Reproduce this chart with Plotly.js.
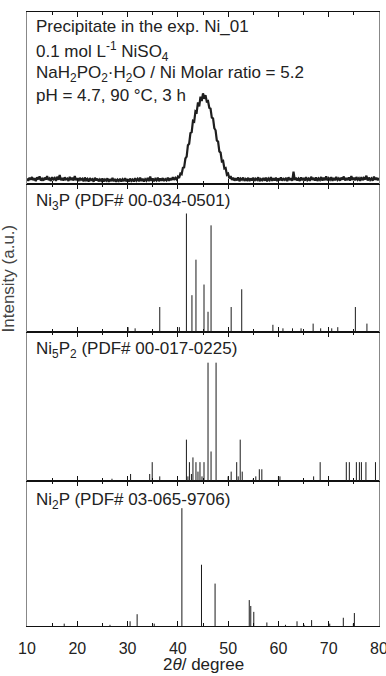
<!DOCTYPE html>
<html>
<head>
<meta charset="utf-8">
<script src="https://cdn.plot.ly/plotly-3.0.1.min.js"></script>
<style>html,body{margin:0;padding:0;background:#fff;}#chart{width:386px;height:676px;}</style>
</head>
<body>
<div id="chart"></div>
<script>
// ---------- Experimental pattern (precipitate, exp. Ni_01) ----------
const expStart = 10;      // 2theta of first point (degree)
const expStep = 0.25;     // sampling step (degree)
const expIntensity = [
  3.1,1.8,3.6,2.4,4.0,2.2,3.3,1.6,3.8,2.7,4.4,2.0,3.0,1.9,3.7,2.5,4.6,2.3,3.2,1.7,
  3.9,2.6,3.4,1.8,4.2,2.4,5.2,2.1,3.5,1.9,3.8,2.6,3.1,1.7,4.1,2.3,3.6,2.0,4.5,2.2,
  3.3,1.6,3.5,2.4,3.0,1.5,3.7,2.1,2.9,1.4,3.4,2.2,2.8,1.3,3.6,2.0,3.1,1.5,2.7,1.8,
  3.2,1.4,2.6,1.9,3.3,1.2,2.8,1.6,3.5,1.5,2.9,1.3,2.5,1.7,3.0,1.4,2.7,1.6,3.4,1.5,
  2.8,1.3,3.1,1.8,2.6,1.4,3.3,1.9,2.9,1.5,3.6,1.7,3.0,1.4,2.8,1.9,3.5,1.6,4.3,1.8,
  3.2,1.5,2.9,2.0,3.7,1.6,3.1,1.9,3.4,1.7,2.8,2.1,3.6,1.8,3.3,2.2,3.9,2.4,3.5,2.6,
  4.2,3.4,6.0,5.6,9.4,9.6,14.8,15.9,22.5,23.4,29.6,30.1,36.7,36.2,42.3,41.8,47.4,45.1,50.8,48.2,
  52.7,49.5,51.6,47.9,48.2,44.3,43.8,38.6,38.1,32.4,31.2,25.3,24.6,18.9,18.2,13.1,13.4,9.0,9.3,5.4,
  6.0,3.2,4.6,2.3,3.6,1.9,3.3,2.1,3.8,1.6,3.1,2.4,3.7,1.8,2.9,2.2,3.5,1.7,3.2,2.0,
  3.6,1.8,3.0,2.3,3.9,1.6,2.8,2.1,3.4,1.9,3.7,1.5,3.1,2.2,4.0,1.8,3.3,2.0,3.6,1.7,
  3.2,2.1,3.8,1.9,3.0,2.4,3.5,1.6,3.9,2.2,3.3,1.8,7.2,2.3,3.6,2.0,3.1,1.7,3.8,2.1,
  3.4,1.9,3.9,2.2,3.1,1.8,4.2,2.4,3.5,2.0,3.8,1.7,3.2,2.3,4.0,1.9,3.6,2.2,4.4,2.0,
  3.3,2.4,3.9,1.8,3.5,2.1,4.1,2.3,3.2,1.9,3.7,2.5,4.3,2.0,3.4,2.2,3.8,1.9,4.6,2.3,
  3.6,2.1,4.0,2.4,3.3,1.8,3.9,2.2,3.5,2.6,4.8,2.0,3.7,2.3,3.2,1.9,4.2,2.4,3.6,2.1,
  3.4
];

// ---------- Reference patterns (2theta, relative intensity) ----------
const ni3pPos = [30.1,31.5,36.4,40.3,41.7,42.8,43.6,45.2,46.0,46.6,50.6,52.7,58.9,60.9,62.8,64.5,66.9,68.4,70.6,71.8,75.3,77.6];
const ni3pInt = [4,3,21,4,100,31,61,40,17,90,21,36,6,3,3,3,7,3,3,4,21,7];

const ni5p2Pos = [26.9,30.6,34.4,34.9,36.4,41.7,42.0,42.3,42.7,43.0,43.6,44.0,44.4,44.8,45.2,46.0,46.6,47.6,50.0,50.6,51.7,52.0,52.4,52.8,55.0,55.5,56.2,56.7,60.0,60.3,67.0,68.3,73.5,74.1,75.5,76.1,76.5,77.4,79.3];
const ni5p2Int = [2,6,6,16,4,35,4,16,6,20,16,8,16,4,16,100,25,100,4,8,16,4,35,8,2,4,10,10,4,4,4,16,16,16,16,16,16,16,16];

const ni2pPos = [17.4,26.5,30.5,31.9,35.3,40.8,44.7,47.4,54.2,54.5,55.1,57.7,61.4,63.7,65.1,66.6,70.2,72.9,74.9,75.1];
const ni2pInt = [2,1,4,10,2,100,52,36,22,17,12,3,1,4,1,5,2,7,2,11];

const xTickVals = [10,20,30,40,50,60,70,80];
const xTickText = ['10','20','30','40','50','60','70','80'];

// ---------- Build traces ----------
const expX = expIntensity.map((_, i) => expStart + i * expStep);

function sticks(pos, inten, xa, ya) {
  const x = [], y = [];
  pos.forEach((p, i) => { x.push(p, p, null); y.push(0, inten[i], null); });
  return {x, y, xaxis: xa, yaxis: ya, type: 'scatter', mode: 'lines',
          line: {color: '#1a1a1a', width: 1}, hoverinfo: 'skip'};
}

const traces = [
  {x: expX, y: expIntensity, xaxis: 'x4', yaxis: 'y4', type: 'scatter', mode: 'lines',
   line: {color: '#1e1e1e', width: 2.2}, hoverinfo: 'skip'},
  sticks(ni3pPos, ni3pInt, 'x3', 'y3'),
  sticks(ni5p2Pos, ni5p2Int, 'x2', 'y2'),
  sticks(ni2pPos, ni2pInt, 'x', 'y')
];

const FONT = 'Liberation Sans, Arial, Helvetica, sans-serif';

function xAxis(anchor, labels) {
  return {
    anchor: anchor, range: [10, 80], showgrid: false, zeroline: false,
    showline: true, linecolor: '#111', linewidth: 1, mirror: 'ticks',
    ticks: 'inside', ticklen: 5, tickwidth: 1, tickcolor: '#111',
    tickvals: xTickVals, ticktext: xTickText, showticklabels: labels,
    ticklabeloverflow: 'allow', ticklabelstandoff: 8,
    tickfont: {family: FONT, size: 16, color: '#222'},
    minor: {dtick: 5, tick0: 10, ticks: 'inside', ticklen: 3, tickwidth: 1, tickcolor: '#111', showgrid: false}
  };
}
function yAxis(domain, range) {
  return {
    domain: domain, range: range, showgrid: false, zeroline: false,
    showline: true, linecolor: '#888', linewidth: 1, mirror: true,
    ticks: '', showticklabels: false, fixedrange: true
  };
}

const layout = {
  width: 386, height: 676,
  margin: {l: 27, r: 7, t: 12, b: 50},
  paper_bgcolor: '#fff', plot_bgcolor: '#fff',
  showlegend: false,
  font: {family: FONT, size: 16, color: '#222'},
  xaxis: xAxis('y', true),
  xaxis2: Object.assign(xAxis('y2', false), {matches: 'x'}),
  xaxis3: Object.assign(xAxis('y3', false), {matches: 'x'}),
  xaxis4: Object.assign(xAxis('y4', false), {matches: 'x'}),
  yaxis: yAxis([0, 0.236], [0, 123]),
  yaxis2: yAxis([0.236, 0.479], [0, 126]),
  yaxis3: yAxis([0.479, 0.720], [0, 125]),
  yaxis4: yAxis([0.720, 1], [0, 100]),
  annotations: [
    {text: 'Precipitate in the exp. Ni_01', x: 0.02, y: 0.976},
    {text: '0.1 mol L<sup>-1</sup> NiSO<sub>4</sub>', x: 0.02, y: 0.935},
    {text: 'NaH<sub>2</sub>PO<sub>2</sub>·H<sub>2</sub>O / Ni Molar ratio = 5.2', x: 0.02, y: 0.899},
    {text: 'pH = 4.7, 90 °C, 3 h', x: 0.02, y: 0.864},
    {text: 'Ni<sub>3</sub>P (PDF# 00-034-0501)', x: 0.02, y: 0.690},
    {text: 'Ni<sub>5</sub>P<sub>2</sub> (PDF# 00-017-0225)', x: 0.02, y: 0.449},
    {text: 'Ni<sub>2</sub>P (PDF# 03-065-9706)', x: 0.02, y: 0.204}
  ].map(a => Object.assign({xref: 'paper', yref: 'paper', xanchor: 'left', yanchor: 'middle',
        showarrow: false, font: {family: FONT, size: 17, color: '#222'}}, a)).concat([
    {text: 'Intensity (a.u.)', xref: 'paper', yref: 'paper', x: -0.054, y: 0.566,
     xanchor: 'center', yanchor: 'middle', textangle: -90, showarrow: false,
     font: {family: FONT, size: 17, color: '#444'}},
    {text: '2<i>θ</i>/ degree', xref: 'paper', yref: 'paper', x: 0.5, y: -0.0635,
     xanchor: 'center', yanchor: 'middle', showarrow: false,
     font: {family: FONT, size: 17, color: '#222'}}
  ])
};

Plotly.newPlot('chart', traces, layout, {staticPlot: true, displayModeBar: false});
</script>
</body>
</html>
